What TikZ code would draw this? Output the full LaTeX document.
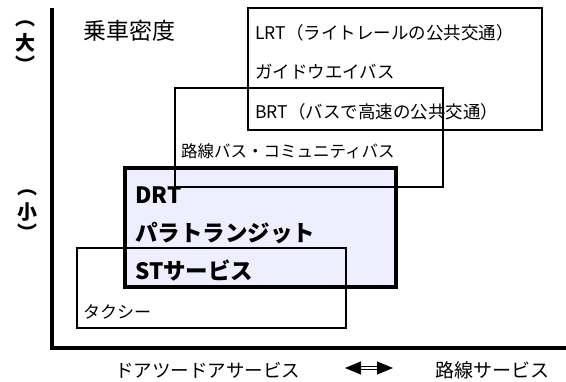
\documentclass[tikz,border=0pt]{standalone}
\usepackage{fontspec}
\setmainfont{Noto Sans CJK JP}
\newfontfamily\jp{Noto Sans CJK JP}
\usetikzlibrary{arrows.meta}
\definecolor{drtfill}{RGB}{238,238,255}
\begin{document}
\begin{tikzpicture}[x=1pt,y=-1pt,
  thinbox/.style={draw,line width=1.2pt,inner sep=0pt,minimum width=#1},
  lbl/.style={anchor=west,inner sep=0pt,font=\jp\fontsize{17.5}{17.5}\selectfont},
  biglbl/.style={anchor=west,inner sep=0pt,font=\jp\bfseries\fontsize{22.5}{22.5}\selectfont},
  axislbl/.style={anchor=west,inner sep=0pt,font=\jp\fontsize{18.5}{18.5}\selectfont},
  vlbl/.style={inner sep=0pt,font=\jp\bfseries\fontsize{20}{20}\selectfont},
  vpar/.style={inner sep=0pt,font=\jp\bfseries\fontsize{20}{20}\selectfont}]
\useasboundingbox (0,0) rectangle (566,382);
% DRT box
\node[draw,line width=4.5pt,fill=drtfill,inner sep=0pt,minimum width=271pt,minimum height=119pt] (drtbox) at (260.5,227.5) {};
% thin boxes
\node[thinbox=294pt,minimum height=122pt] (lrtbox) at (395,69) {};
\node[thinbox=268pt,minimum height=99pt] (busbox) at (309,137.5) {};
\node[thinbox=269pt,minimum height=80pt] (taxibox) at (211.5,288) {};
% axes
\coordinate (ytop) at (52,8);
\coordinate (orig) at (52,348);
\coordinate (xend) at (566,348);
\draw[line width=4pt] (ytop) -- (orig) -- (xend);
% texts
\node[anchor=west,inner sep=0pt,font=\jp\fontsize{23}{23}\selectfont] (density) at (83,31) {乗車密度};
\node[vlbl] (big) at (26,43) {大};
\node[vpar] (bigo) at (26,24) {︵};
\node[vpar] (bigc) at (26,64) {︶};
\node[vlbl] (small) at (27,212) {小};
\node[vpar] (smallo) at (27,193) {︵};
\node[vpar] (smallc) at (27,232) {︶};
\node[lbl] (lrt) at (255,33) {LRT（ライトレールの公共交通）};
\node[lbl] (guide) at (255,72) {ガイドウエイバス};
\node[lbl] (brt) at (255,112) {BRT（バスで高速の公共交通）};
\node[lbl,font=\jp\fontsize{16.5}{16.5}\selectfont] (bus) at (181,151) {路線バス・コミュニティバス};
\node[biglbl] (drt) at (135,195) {DRT};
\node[biglbl] (para) at (135,233) {パラトランジット};
\node[biglbl] (st) at (135,271) {STサービス};
\node[lbl,font=\jp\fontsize{17}{17}\selectfont] (taxi) at (83,312) {タクシー};
\node[axislbl] (door) at (115,370) {ドアツードアサービス};
\node[axislbl,font=\jp\fontsize{19}{19}\selectfont] (route) at (435,370) {路線サービス};
\coordinate (arl) at (345,368);
\coordinate (arr) at (393,368);
\draw[line width=1pt,double,double distance=2.5pt,{Triangle[length=16pt,width=13pt]}-{Triangle[length=16pt,width=13pt]}] (arl) -- (arr);
\end{tikzpicture}
\end{document}
